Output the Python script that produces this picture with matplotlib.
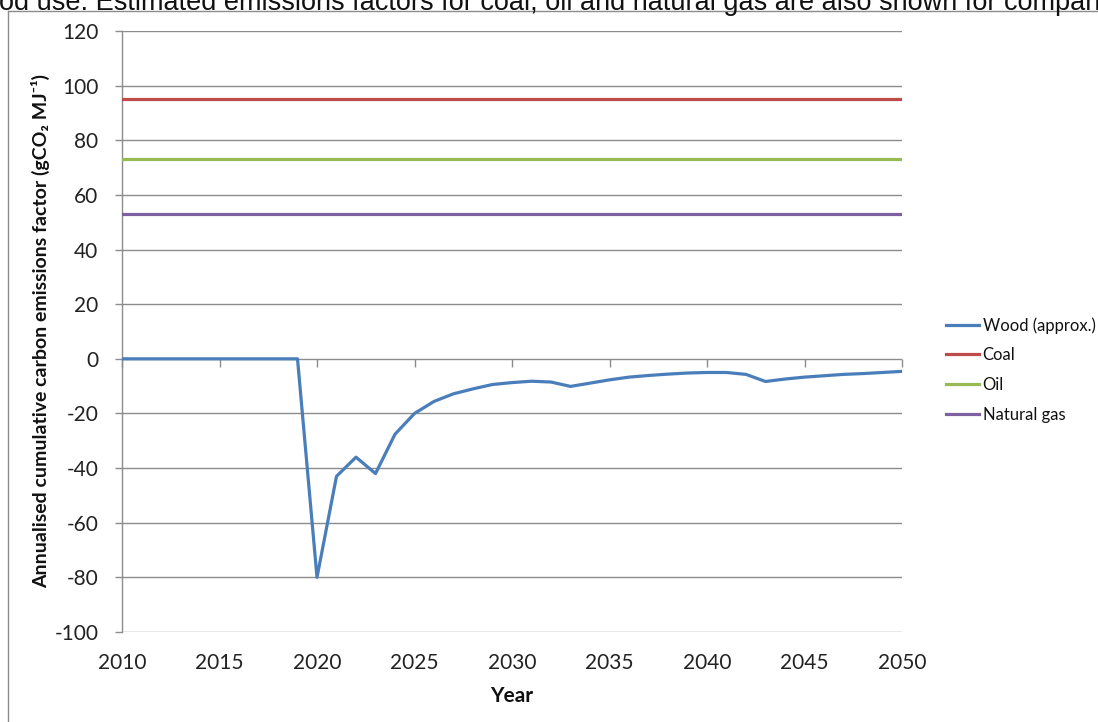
import matplotlib
matplotlib.use("Agg")
import matplotlib.pyplot as plt
from matplotlib.lines import Line2D

plt.rcParams["axes.unicode_minus"] = False

# ---- data -------------------------------------------------------------
years = list(range(2010, 2051))
wood = [0, 0, 0, 0, 0, 0, 0, 0, 0, 0,
        -80, -43, -36, -42, -27.6, -20, -15.6, -12.8, -11, -9.4,
        -8.7, -8.2, -8.5, -10.1, -8.9, -7.7, -6.7, -6.1, -5.6, -5.2,
        -5.0, -5.0, -5.7, -8.3, -7.4, -6.7, -6.2, -5.7, -5.4, -5.0, -4.6]
coal = 95
oil = 73
natural_gas = 53

series_labels = ["Wood (approx.)", "Coal", "Oil", "Natural gas"]
series_colors = ["#4A7EBB", "#BE4B48", "#98B954", "#7D60A0"]

x_ticks = list(range(2010, 2051, 5))
y_ticks = list(range(-100, 121, 20))

caption = ("od use. Estimated emissions factors for coal, oil and natural gas "
           "are also shown for compari")

# ---- figure -----------------------------------------------------------
W, H = 1098, 722
fig = plt.figure(figsize=(W / 100, H / 100), dpi=100)
fig.patch.set_facecolor("white")

FONT = ["Lato", "DejaVu Sans"]
GRID = "#8C8C8C"

# caption line above the chart (only its lower part is on the page)
fig.text(-1 / W, 1 - 10 / H, caption, family=["Liberation Sans", "DejaVu Sans"],
         fontsize=19.5, color="#111111", ha="left", va="baseline")

# chart border
fig.add_artist(Line2D([8 / W, 8 / W], [1 - 11 / H, 0], transform=fig.transFigure,
                      color=GRID, lw=1.0))
fig.add_artist(Line2D([8 / W, 1], [1 - 11 / H, 1 - 11 / H], transform=fig.transFigure,
                      color=GRID, lw=1.0))

left, right, top, bottom = 122, 902, 31, 632
ax = fig.add_axes([left / W, 1 - bottom / H, (right - left) / W, (bottom - top) / H])

ax.plot(years, wood, color=series_colors[0], lw=2.3, label=series_labels[0],
        solid_joinstyle="round", zorder=4)
ax.plot([years[0], years[-1]], [coal, coal], color=series_colors[1], lw=2.3,
        label=series_labels[1], zorder=3)
ax.plot([years[0], years[-1]], [oil, oil], color=series_colors[2], lw=2.3,
        label=series_labels[2], zorder=3)
ax.plot([years[0], years[-1]], [natural_gas, natural_gas], color=series_colors[3],
        lw=2.3, label=series_labels[3], zorder=3)

ax.set_xlim(2010, 2050)
ax.set_ylim(-100, 120)
ax.set_xticks(x_ticks)
ax.set_yticks(y_ticks)
ax.yaxis.grid(True, color=GRID, lw=1.0)
ax.set_axisbelow(True)

for s in ["top", "right", "bottom"]:
    ax.spines[s].set_visible(False)
ax.spines["left"].set_color(GRID)
ax.spines["left"].set_linewidth(1.0)

ax.tick_params(axis="y", direction="out", length=5, width=1.0, color=GRID,
               pad=12, labelsize=15, labelcolor="#222222")
ax.tick_params(axis="x", length=0, pad=15, labelsize=15, labelcolor="#222222")
for lab in ax.get_xticklabels() + ax.get_yticklabels():
    lab.set_family(FONT)

# horizontal category axis crossing at zero, with outward tick marks
zero_frac = (0 - (-100)) / (120 - (-100))
sec = ax.secondary_xaxis(zero_frac)
sec.set_xticks(x_ticks)
sec.set_xticklabels([""] * len(x_ticks))
sec.tick_params(axis="x", direction="out", length=6, width=1.0, color=GRID)
for s in sec.spines.values():
    s.set_visible(False)

ax.set_ylabel("Annualised cumulative carbon emissions factor (gCO\u2082 MJ\u207b\u00b9)",
              family=FONT, fontsize=14, fontweight="bold", color="#111111")
ax.yaxis.set_label_coords((50 - left) / (right - left), 0.5)
ax.set_xlabel("Year", family=FONT, fontsize=15, fontweight="bold", color="#111111")
ax.xaxis.set_label_coords(0.5, -(686 - bottom) / (bottom - top))

leg = ax.legend(loc="upper left", bbox_to_anchor=(946 / W, 1 - 317 / H),
                bbox_transform=fig.transFigure, frameon=False,
                prop={"family": FONT, "size": 12},
                handlelength=2.0, handletextpad=0.2, labelspacing=0.82,
                borderpad=0, borderaxespad=0)
for t in leg.get_texts():
    t.set_color("#111111")

fig.savefig("out.png", dpi=100)
